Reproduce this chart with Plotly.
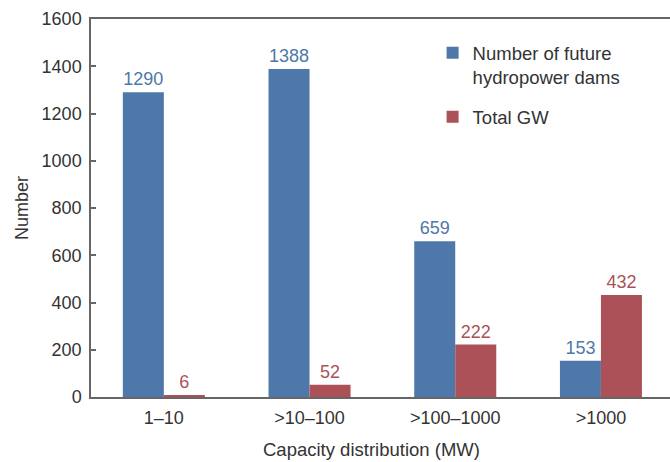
import plotly.graph_objects as go

categories = ["1–10", ">10–100", ">100–1000", ">1000"]
dams = [1290, 1388, 659, 153]
total_gw = [6, 52, 222, 432]

BLUE = "#4E78A9"
RED = "#AC5157"
FONT = "Liberation Sans, Arial, sans-serif"
TXT = "#333333"

fig = go.Figure()
fig.add_trace(go.Bar(
    x=categories, y=dams, name="Number of future<br>hydropower dams",
    legendgroup="a",
    marker=dict(color=BLUE, line=dict(width=0)),
    text=[str(v) for v in dams], textposition="outside",
    textfont=dict(color=BLUE, size=18, family=FONT), cliponaxis=False,
))
fig.add_trace(go.Bar(
    x=categories, y=total_gw, name="Total GW",
    legendgroup="b",
    marker=dict(color=RED, line=dict(width=0)),
    text=[str(v) for v in total_gw], textposition="outside",
    textfont=dict(color=RED, size=18, family=FONT), cliponaxis=False,
))

fig.update_layout(
    width=670, height=462,
    margin=dict(l=91, r=0, t=19, b=65, autoexpand=False),
    paper_bgcolor="white", plot_bgcolor="white",
    barmode="group", bargap=0.437, bargroupgap=0,
    font=dict(family=FONT, size=18, color=TXT),
    showlegend=True,
    legend=dict(
        x=0.59, y=0.96, xanchor="left", yanchor="top",
        font=dict(size=18.5, color=TXT),
        bgcolor="rgba(0,0,0,0)", traceorder="grouped", tracegroupgap=13,
        valign="top",
    ),
    xaxis=dict(
        range=[-0.5, 3.474], showline=True, linecolor="#666666", linewidth=1.5,
        mirror=True, ticks="", showgrid=False, zeroline=False, automargin=False,
        tickfont=dict(size=18, color=TXT), ticklabelstandoff=4,
    ),
    yaxis=dict(
        range=[0, 1600], dtick=200, showline=True, linecolor="#666666", linewidth=1.5,
        ticks="inside", ticklen=5, tickcolor="#666666", tickwidth=1.5,
        showgrid=False, zeroline=False, automargin=False,
        tickfont=dict(size=18, color=TXT), ticklabelstandoff=4,
        title=dict(text="Number", font=dict(size=18, color=TXT), standoff=8),
    ),
    annotations=[dict(
        text="Capacity distribution (MW)", xref="paper", yref="paper",
        x=(371.5 - 91) / 579, y=-0.14, xanchor="center", yanchor="middle",
        showarrow=False, font=dict(size=18.5, color=TXT),
    )],
)

fig.write_html("out.html", post_script="document.body.style.margin='0';",
               config={"displayModeBar": False})
